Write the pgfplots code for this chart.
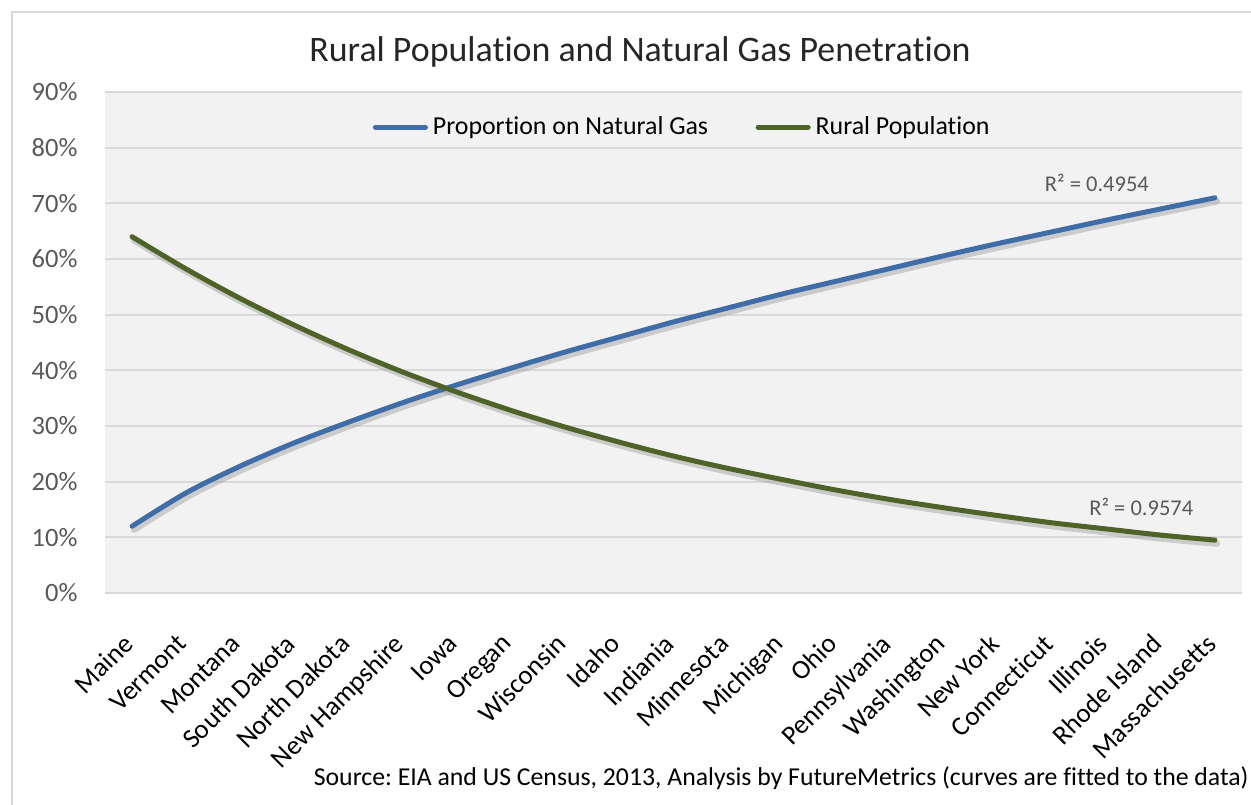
\documentclass[border=0pt]{standalone}
\usepackage{pgfplots}
\pgfplotsset{compat=1.18}
\usepackage{fontspec}
\setmainfont{Carlito}[Ligatures=NoCommon]
\definecolor{gasblue}{HTML}{3F6DA8}
\definecolor{ruralgreen}{HTML}{4F6228}
\definecolor{plotbg}{HTML}{F2F2F2}
\definecolor{gridgray}{HTML}{D9D9D9}
\definecolor{labgray}{HTML}{595959}
\begin{document}
\frenchspacing
\begin{tikzpicture}
\begin{axis}[
  scale only axis,
  width=454.8pt, height=200.4pt,
  xmin=-0.5, xmax=20.5,
  ymin=0, ymax=90,
  ytick={0,10,...,90},
  yticklabel={\pgfmathprintnumber{\tick}\%},
  /pgf/number format/assume math mode=true,
  xtick={0,...,20},
  xticklabels={Maine,Vermont,Montana,South Dakota,North Dakota,New Hampshire,Iowa,Oregan,Wisconsin,Idaho,Indiania,Minnesota,Michigan,Ohio,Pennsylvania,Washington,New York,Connecticut,Illinois,Rhode Island,Massachusetts},
  x tick label style={rotate=45, anchor=north east, font=\fontsize{10.8}{12}\selectfont, text=black, inner sep=1pt, xshift=-13pt, yshift=-7pt},
  y tick label style={font=\fontsize{10.6}{12}\selectfont, text=labgray, anchor=east, inner sep=0pt, xshift=-10.8pt},
  major tick length=0pt,
  axis line style={draw=none},
  ymajorgrids, xmajorgrids=false,
  major grid style={gridgray, line width=0.8pt},
  axis background/.style={fill=plotbg},
  legend style={at={(0.509,0.93)}, anchor=center, draw=none, fill=none, legend columns=2,
    font=\fontsize{10.35}{12}\selectfont, inner sep=0pt,
    /tikz/every even column/.append style={column sep=17pt}},
  legend cell align=left,
  legend image code/.code={\draw[#1, line width=2pt] (0pt,0pt) -- (20pt,0pt);},
  clip=false,
]
% soft shadows under the fitted curves
\addplot[black!35, opacity=0.5, line width=2.6pt, smooth, line cap=round, xshift=0.8pt, yshift=-1.4pt, forget plot] coordinates {
(0,12.0) (1,18.0) (2,22.8) (3,27.0) (4,30.7) (5,34.2) (6,37.4) (7,40.4) (8,43.3) (9,46.0) (10,48.7)
(11,51.2) (12,53.7) (13,56.0) (14,58.3) (15,60.6) (16,62.8) (17,64.9) (18,67.0) (19,69.0) (20,71.0)};
\addplot[black!35, opacity=0.5, line width=2.6pt, smooth, line cap=round, xshift=0.8pt, yshift=-1.4pt, forget plot] coordinates {
(0,64.0) (1,58.2) (2,52.9) (3,48.1) (4,43.7) (5,39.7) (6,36.1) (7,32.8) (8,29.8) (9,27.1) (10,24.6)
(11,22.4) (12,20.4) (13,18.5) (14,16.8) (15,15.3) (16,13.9) (17,12.6) (18,11.5) (19,10.4) (20,9.5)};
\addplot[gasblue, line width=2pt, smooth, line cap=round] coordinates {
(0,12.0) (1,18.0) (2,22.8) (3,27.0) (4,30.7) (5,34.2) (6,37.4) (7,40.4) (8,43.3) (9,46.0) (10,48.7)
(11,51.2) (12,53.7) (13,56.0) (14,58.3) (15,60.6) (16,62.8) (17,64.9) (18,67.0) (19,69.0) (20,71.0)};
\addlegendentry{Proportion on Natural Gas}
\addplot[ruralgreen, line width=2pt, smooth, line cap=round] coordinates {
(0,64.0) (1,58.2) (2,52.9) (3,48.1) (4,43.7) (5,39.7) (6,36.1) (7,32.8) (8,29.8) (9,27.1) (10,24.6)
(11,22.4) (12,20.4) (13,18.5) (14,16.8) (15,15.3) (16,13.9) (17,12.6) (18,11.5) (19,10.4) (20,9.5)};
\addlegendentry{Rural Population}
\node[text=labgray, font=\fontsize{9}{11}\selectfont] at (axis cs:17.82,73.6) {R² = 0.4954};
\node[text=labgray, font=\fontsize{9}{11}\selectfont] at (axis cs:18.64,15.4) {R² = 0.9574};
\coordinate (O) at (rel axis cs:0,0);
\end{axis}
\path[use as bounding box] ([shift={(-42pt,237.2pt)}]O) rectangle ([shift={(458.4pt,-84.4pt)}]O);
\draw[gridgray, line width=0.6pt] ([shift={(-37.2pt,-85pt)}]O) -- ([shift={(-37.2pt,232.4pt)}]O) -- ([shift={(460pt,232.4pt)}]O);
\node[font=\fontsize{14.35}{16}\selectfont, text={black!85}] at ([shift={(214pt,216.4pt)}]O) {Rural Population and Natural Gas Penetration};
\node[font=\fontsize{10.3}{12}\selectfont, anchor=east, inner sep=0pt] at ([shift={(457.6pt,-74pt)}]O) {Source: EIA and US Census, 2013, Analysis by FutureMetrics (curves are fitted to the data)};
\end{tikzpicture}
\end{document}
